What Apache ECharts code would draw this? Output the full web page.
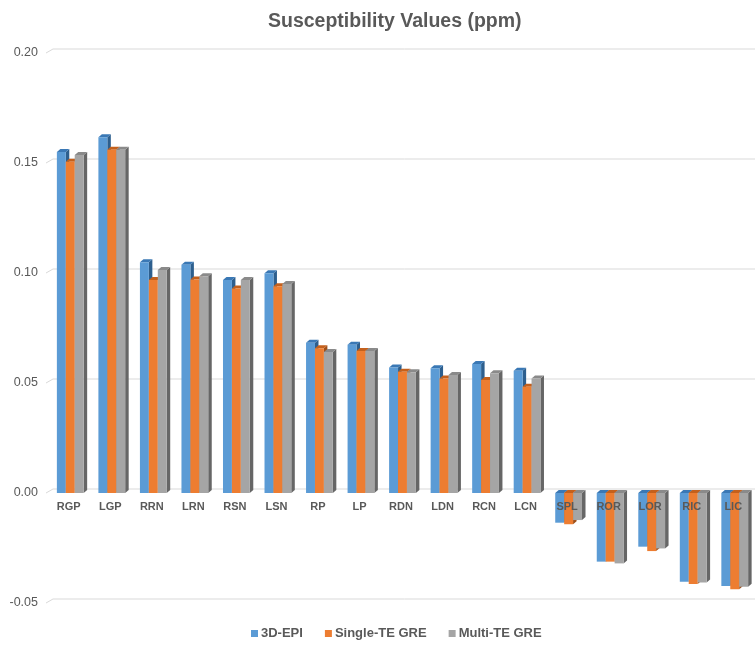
<!DOCTYPE html>
<html>
<head>
<meta charset="utf-8">
<title>Susceptibility Values (ppm)</title>
<script src="https://cdn.jsdelivr.net/npm/echarts@6/dist/echarts.min.js"></script>
<style>
  html, body { margin: 0; padding: 0; background: #ffffff; }
  #chart { width: 755px; height: 647px; }
</style>
</head>
<body>
<div id="chart"></div>
<script>
// Brain regions along the x axis
const categories = ['RGP', 'LGP', 'RRN', 'LRN', 'RSN', 'LSN', 'RP', 'LP', 'RDN', 'LDN', 'RCN', 'LCN', 'SPL', 'ROR', 'LOR', 'RIC', 'LIC'];

// Susceptibility values (ppm) per acquisition method
const epi3d = [0.155, 0.1617, 0.1049, 0.1038, 0.0968, 0.0999, 0.0683, 0.0674, 0.0571, 0.0567, 0.0586, 0.0556, -0.0135, -0.0312, -0.0244, -0.0403, -0.0423];
const singleTE = [0.1506, 0.156, 0.0968, 0.0971, 0.093, 0.094, 0.0658, 0.0645, 0.0551, 0.0521, 0.0514, 0.0483, -0.0142, -0.0312, -0.0264, -0.0414, -0.0438];
const multiTE = [0.1536, 0.156, 0.1014, 0.0985, 0.0968, 0.095, 0.0641, 0.0645, 0.0549, 0.0536, 0.0544, 0.0521, -0.0123, -0.032, -0.0252, -0.0407, -0.0426];

// Value axis ticks
const yTicks = [-0.05, 0, 0.05, 0.10, 0.15, 0.20];

const seriesNames = ['3D-EPI', 'Single-TE GRE', 'Multi-TE GRE'];
const seriesValues = [epi3d, singleTE, multiTE];
// front / top / side shades for the pseudo-3D columns
const palette = [
  { front: '#5b9bd5', top: '#3a78b5', side: '#2d5f8e' },
  { front: '#ed7d31', top: '#c4601c', side: '#9e4f19' },
  { front: '#a5a5a5', top: '#8a8a8a', side: '#666666' }
];

const FONT = '"Liberation Sans", Arial, sans-serif';
const TEXT_COLOR = '#595959';
const DEPTH_X = 3.5, DEPTH_Y = 3;

function columnRenderer(seriesIdx) {
  const c = palette[seriesIdx];
  return function (params, api) {
    const cat = api.value(0);
    const v = api.value(1);
    const catW = api.size([1, 0])[0];
    const bw = catW * 0.215;
    const cx = api.coord([cat, 0])[0];
    const x0 = cx - 1.5 * bw + 1.5 + seriesIdx * bw;
    const yZero = api.coord([cat, 0])[1];
    const yVal = api.coord([cat, v])[1];
    const top = Math.min(yZero, yVal);
    const bottom = Math.max(yZero, yVal);
    return {
      type: 'group',
      children: [
        {
          type: 'polygon',
          shape: { points: [[x0 + bw, top], [x0 + bw + DEPTH_X, top - DEPTH_Y], [x0 + bw + DEPTH_X, bottom - DEPTH_Y], [x0 + bw, bottom]] },
          style: { fill: c.side }
        },
        {
          type: 'polygon',
          shape: { points: [[x0, top], [x0 + DEPTH_X, top - DEPTH_Y], [x0 + bw + DEPTH_X, top - DEPTH_Y], [x0 + bw, top]] },
          style: { fill: c.top }
        },
        {
          type: 'rect',
          shape: { x: x0, y: top, width: bw, height: bottom - top },
          style: { fill: c.front }
        }
      ]
    };
  };
}

// Back-wall gridlines with the short perspective stub on the left
function gridRenderer(params, api) {
  const rect = params.coordSys;
  const y = api.coord([0, api.value(1)])[1];
  return {
    type: 'polyline',
    shape: { points: [[rect.x - 2, y], [rect.x + 5, y - 4], [rect.x + rect.width + 10, y - 4]] },
    style: { stroke: '#d9d9d9', lineWidth: 1, fill: null }
  };
}

// Category names sit just under the zero line, drawn over the negative columns
function categoryLabelRenderer(params, api) {
  const p = api.coord([api.value(0), 0]);
  return {
    type: 'text',
    x: p[0],
    y: p[1] + 8,
    style: {
      text: categories[params.dataIndex],
      fill: TEXT_COLOR,
      font: 'bold 11px ' + FONT,
      textAlign: 'center',
      textVerticalAlign: 'top'
    }
  };
}

const series = [{
  type: 'custom',
  name: 'grid',
  renderItem: gridRenderer,
  data: yTicks.map(t => [0, t]),
  clip: false,
  silent: true,
  z: 1
}];

seriesValues.forEach((vals, i) => {
  series.push({
    type: 'custom',
    name: seriesNames[i],
    renderItem: columnRenderer(i),
    data: vals.map((v, k) => [k, v]),
    itemStyle: { color: palette[i].front },
    clip: false,
    z: 2
  });
});

series.push({
  type: 'custom',
  name: 'categoryLabels',
  renderItem: categoryLabelRenderer,
  data: categories.map((c, k) => [k, 0]),
  clip: false,
  silent: true,
  z: 5
});

const chart = echarts.init(document.getElementById('chart'), null, { renderer: 'canvas' });
chart.setOption({
  animation: false,
  backgroundColor: '#ffffff',
  title: {
    text: 'Susceptibility Values (ppm)',
    left: 263,
    top: 7,
    textStyle: { fontFamily: FONT, fontSize: 19.5, fontWeight: 'bold', color: TEXT_COLOR }
  },
  legend: {
    data: seriesNames,
    bottom: 2,
    left: 246,
    icon: 'rect',
    itemWidth: 7,
    itemHeight: 7,
    itemGap: 22,
    textStyle: { fontFamily: FONT, fontSize: 13, fontWeight: 'bold', color: TEXT_COLOR, padding: [0, 0, 0, -2] }
  },
  grid: { left: 48, right: 1, top: 53, bottom: 44, containLabel: false },
  xAxis: {
    type: 'category',
    data: categories,
    axisLine: { show: false },
    axisTick: { show: false },
    splitLine: { show: false },
    axisLabel: { show: false }
  },
  yAxis: {
    type: 'value',
    min: yTicks[0],
    max: yTicks[yTicks.length - 1],
    interval: 0.05,
    axisLine: { show: false },
    axisTick: { show: false },
    splitLine: { show: false },
    axisLabel: {
      fontFamily: FONT, fontSize: 12.5, color: TEXT_COLOR, margin: 10,
      formatter: v => v.toFixed(2)
    }
  },
  series: series
});
</script>
</body>
</html>
